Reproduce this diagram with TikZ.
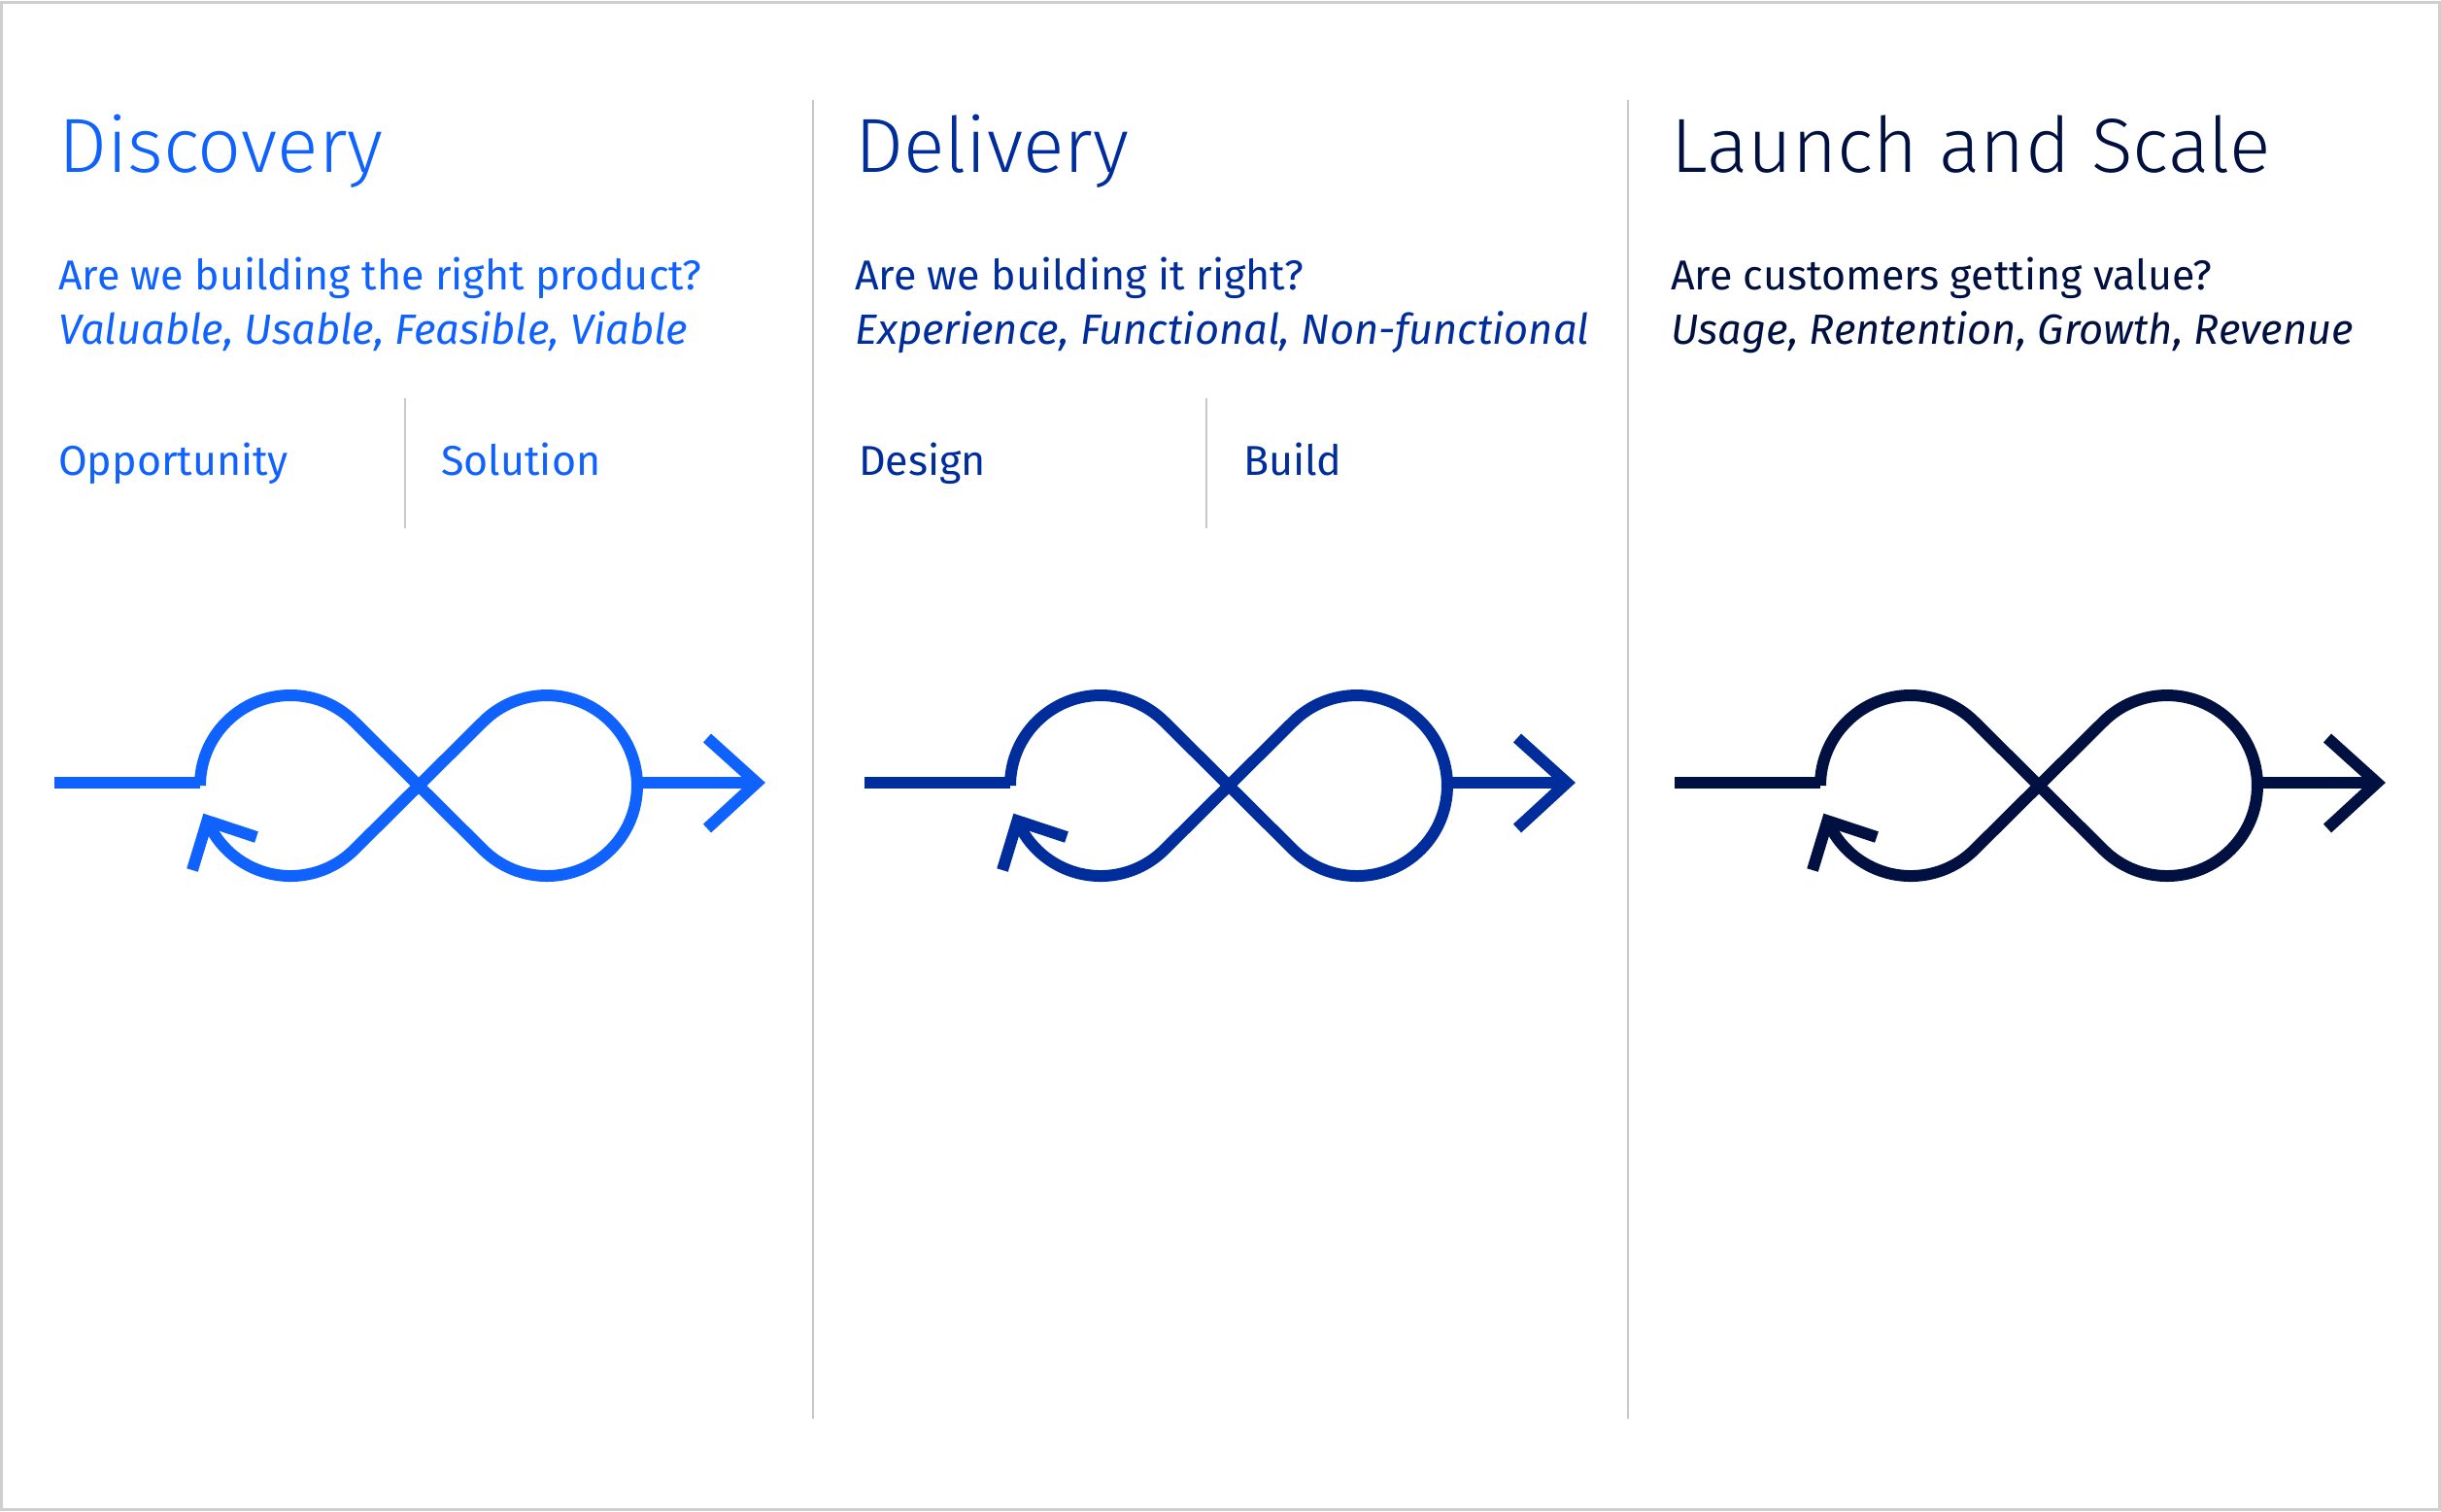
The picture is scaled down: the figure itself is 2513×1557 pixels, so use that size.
\documentclass[tikz,border=0pt]{standalone}
\usepackage{fontspec}
\setmainfont{Fira Sans}
\newfontfamily\titlefont{Fira Sans Light}
\definecolor{disc}{HTML}{0F62FE}
\definecolor{deliv}{HTML}{002D9C}
\definecolor{launch}{HTML}{001141}
\definecolor{sepgray}{HTML}{C8C8C8}
\definecolor{framegray}{HTML}{CFCFCF}
\tikzset{
  title/.style={anchor=base west, inner sep=0pt, font=\titlefont\fontsize{79}{90}\selectfont},
  body/.style={anchor=base west, inner sep=0pt, font=\fontsize{43}{50}\selectfont},
  ital/.style={anchor=base west, inner sep=0pt, font=\itshape\fontsize{43.5}{50}\selectfont},
  sepline/.style={draw=sepgray, line width=2pt},
  inf/.style={line width=12pt, line join=miter},
}
\newcommand{\infloop}[2]{%
  \begin{scope}[xshift=#1pt, #2]
    \coordinate (s#1) at (56,806);
    \coordinate (l#1) at (206,806);
    \coordinate (r#1) at (656,806);
    \coordinate (tip#1) at (779,806);
    \coordinate (ua#1) at (728,760);
    \coordinate (la#1) at (728,853);
    \coordinate (btip#1) at (213.4,845.3);
    \coordinate (ba#1) at (198,896);
    \coordinate (bb#1) at (264,862);
    \draw[inf] (s#1) -- (l#1);
    \draw[inf] (206,809) arc[start angle=180, end angle=315, radius=93]
      -- (497.2,874.8) arc[start angle=135, end angle=-135, radius=93]
      -- (364.8,874.8) arc[start angle=45, end angle=157, radius=93];
    \draw[inf] (r#1) -- (tip#1);
    \draw[inf] (ua#1) -- (tip#1) -- (la#1);
    \draw[inf] (ba#1) -- (btip#1) -- (bb#1);
  \end{scope}}
\begin{document}
\begin{tikzpicture}[x=1pt, y=-1pt]
\useasboundingbox (0,0) rectangle (2513,1557);
\fill[white] (0,0) rectangle (2513,1557);
\draw[framegray, line width=3pt] (1.5,2.5) rectangle (2511.5,1554.5);

% separators
\draw[sepline] (837,103) -- (837,1461);
\draw[sepline] (1676,103) -- (1676,1461);
\draw[sepline] (417,410) -- (417,544);
\draw[sepline] (1242,410) -- (1242,544);

% Discovery
\node[title, text=disc] (t1) at (60,178) {Discovery};
\node[body, text=disc] (q1) at (60,298) {Are we building the right product?};
\node[ital, text=disc] (i1) at (60,354) {Valuable, Usable, Feasible, Viable};
\node[body, text=disc] (o1) at (60,489) {Opportunity};
\node[body, text=disc] (o2) at (454,489) {Solution};

% Delivery
\node[title, text=deliv] (t2) at (880,178) {Delivery};
\node[body, text=deliv] (q2) at (880,298) {Are we building it right?};
\node[ital, text=deliv] (i2) at (880,354) {Experience, Functional, Non-functional};
\node[body, text=deliv] (d1) at (884,489) {Design};
\node[body, text=deliv] (d2) at (1280,489) {Build};

% Launch
\node[title, text=launch] (t3) at (1720,178) {Launch and Scale};
\node[body, text=launch] (q3) at (1720,298) {Are customers getting value?};
\node[ital, text=launch] (i3) at (1720,354) {Usage, Rentention, Growth, Revenue};

% infinity loops
\infloop{0}{disc}
\infloop{834}{deliv}
\infloop{1668}{launch}
\end{tikzpicture}
\end{document}
